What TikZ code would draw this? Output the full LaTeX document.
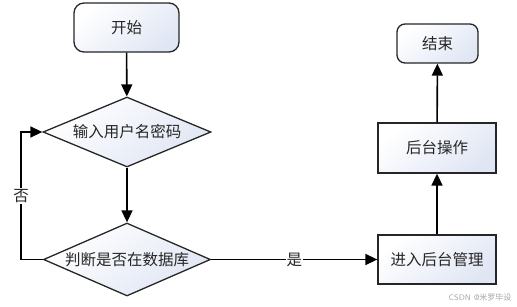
\documentclass[tikz,border=0pt]{standalone}
\usepackage{fontspec}
\newfontfamily\cjk{Noto Sans CJK SC}
\usetikzlibrary{shapes.geometric,arrows.meta}
\definecolor{boxbot}{RGB}{224,230,244}
\begin{document}
\begin{tikzpicture}[x=1pt,y=-1pt,
  every node/.style={font=\cjk\fontsize{15.5}{18}\selectfont, text=black!85},
  boxbase/.style={draw=black!85, line width=1.3pt, shading=axis, top color=white, bottom color=boxbot, shading angle=40, inner sep=0pt},
  termbox/.style={boxbase, rectangle, rounded corners=10pt},
  procbox/.style={boxbase, rectangle},
  decbox/.style={boxbase, diamond, aspect=2.3},
  arr/.style={line width=1.6pt, draw=black, -{Triangle[length=12pt,width=11pt]}},
  lbl/.style={fill=white, inner sep=1pt}]
\useasboundingbox (0,0) rectangle (517,306);
\node[termbox, minimum width=105pt, minimum height=49pt] (start) at (126.5,27.5) {开始};
\node[decbox, minimum width=168pt, minimum height=70pt] (d1) at (127,132) {输入用户名密码};
\node[decbox, minimum width=167pt, minimum height=73pt] (d2) at (127,259.5) {判断是否在数据库};
\node[procbox, minimum width=118pt, minimum height=49pt] (enter) at (437,259.5) {进入后台管理};
\node[procbox, minimum width=118pt, minimum height=50pt] (ops) at (437,148) {后台操作};
\node[termbox, rounded corners=8pt, minimum width=81pt, minimum height=39pt] (end) at (437.5,43.5) {结束};
\coordinate (lp) at (21,259.5);
\draw[arr] (start) -- (d1);
\draw[arr] (d1) -- (d2);
\draw[arr] (d2.west) -- (lp) |- (d1.west);
\node[lbl] (no) at (21,196) {否};
\draw[arr] (d2.east) -- node[lbl, pos=0.5] {是} (enter.west);
\draw[arr] (enter) -- (ops);
\draw[arr] (ops) -- (end);
\node[font=\sffamily\fontsize{8}{9}\selectfont, text=black!35, anchor=east] (wm) at (515,297) {CSDN @{\cjk 米罗毕设}};
\end{tikzpicture}
\end{document}
